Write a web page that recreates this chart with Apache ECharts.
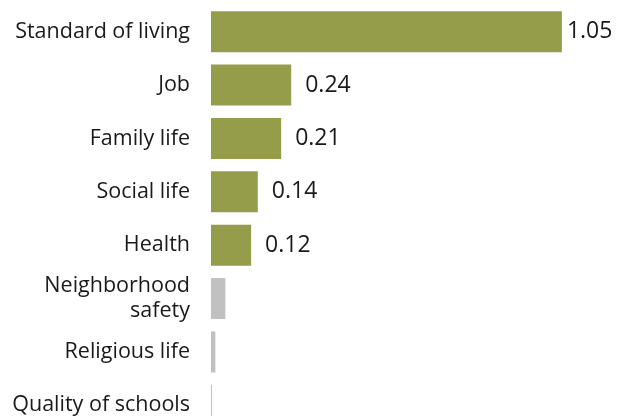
<!DOCTYPE html>
<html>
<head>
<meta charset="utf-8">
<script src="https://cdn.jsdelivr.net/npm/echarts@6/dist/echarts.min.js"></script>
<style>
  html, body { margin: 0; padding: 0; background: #fff; }
  #chart { width: 618px; height: 416px; }
</style>
</head>
<body>
<div id="chart"></div>
<script>
// Aspects of life, top to bottom
const categories = [
  'Standard of living',
  'Job',
  'Family life',
  'Social life',
  'Health',
  'Neighborhood\nsafety',
  'Religious life',
  'Quality of schools'
];
const values = [1.05, 0.24, 0.21, 0.14, 0.12, 0.043, 0.013, 0.003];
// Which bars carry a value label (the significant ones)
const significant = [true, true, true, true, true, false, false, false];

const GREEN = '#959d4b';
const GRAY = '#c1c1c1';
const FONT = '"Open Sans", sans-serif';

const chart = echarts.init(document.getElementById('chart'), null, { renderer: 'canvas' });

chart.setOption({
  animation: false,
  grid: {
    left: 211, top: 5, width: 401, height: 427,
    outerBoundsMode: 'none',
    containLabel: false
  },
  xAxis: {
    type: 'value', min: 0, max: 1.2,
    show: false
  },
  yAxis: {
    type: 'category',
    data: categories,
    inverse: true,
    axisLine: { show: false },
    axisTick: { show: false },
    splitLine: { show: false },
    axisLabel: {
      margin: 21,
      color: '#1a1a1a',
      fontFamily: FONT,
      fontSize: 21.5,
      lineHeight: 25,
      align: 'right'
    }
  },
  series: [{
    type: 'bar',
    barWidth: 41,
    data: values.map((v, i) => ({
      value: v,
      itemStyle: { color: significant[i] ? GREEN : GRAY },
      label: {
        show: significant[i],
        distance: i === 0 ? 5 : 14
      }
    })),
    label: {
      position: 'right',
      color: '#1a1a1a',
      fontFamily: FONT,
      fontSize: 23,
      formatter: p => p.value.toFixed(2)
    }
  }]
});
</script>
</body>
</html>
